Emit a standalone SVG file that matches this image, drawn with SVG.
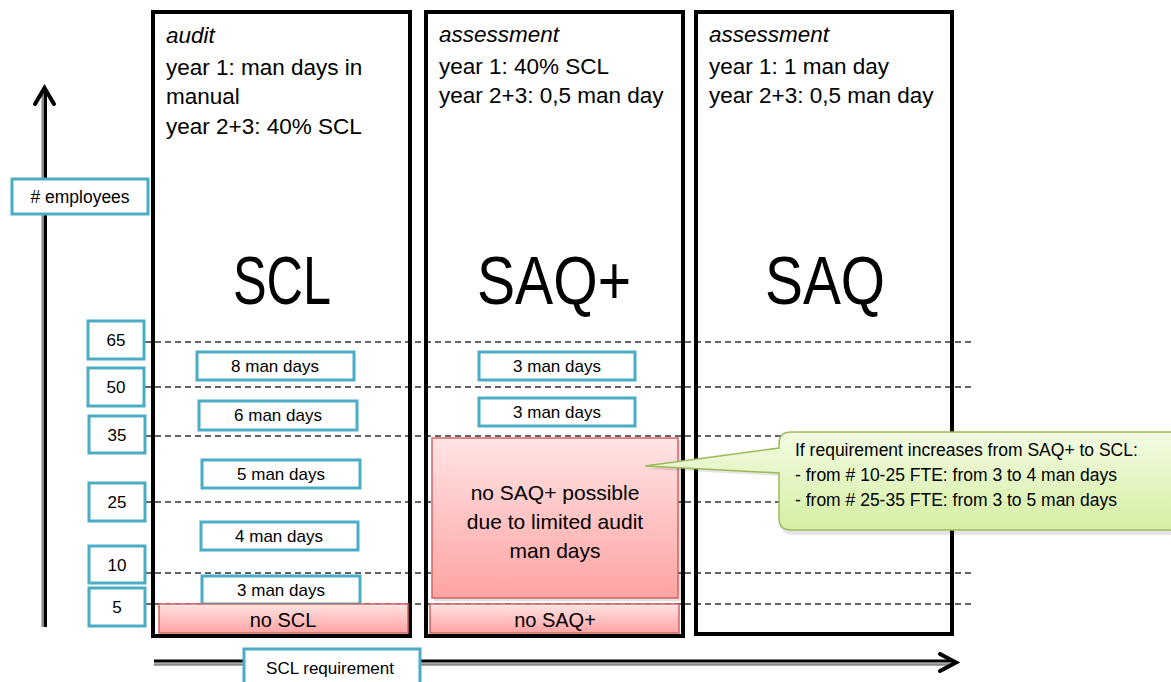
<svg xmlns="http://www.w3.org/2000/svg" width="1171" height="682" viewBox="0 0 1171 682">
<defs>
<linearGradient id="pink" x1="0" y1="0" x2="0" y2="1">
<stop offset="0" stop-color="#ffe4e4"/>
<stop offset="1" stop-color="#ffa3a3"/>
</linearGradient>
<linearGradient id="green" x1="0" y1="0" x2="0" y2="1">
<stop offset="0" stop-color="#f3fbe3"/>
<stop offset="1" stop-color="#d5efa3"/>
</linearGradient>
<style>
text{font-family:"Liberation Sans",Arial,sans-serif;fill:#000}
.col{fill:none;stroke:#000;stroke-width:4}
.blue{fill:#fff;stroke:#4bacc6;stroke-width:3}
.dash{stroke:#333;stroke-width:1.3;stroke-dasharray:6 4;fill:none}
.pink{fill:url(#pink);stroke:#d06464;stroke-width:1.5}
.hdr{font-size:22.5px}
.it{font-style:italic}
.big{font-size:68px;text-anchor:middle}
.sm{font-size:17px;text-anchor:middle}
.mid{font-size:20px;text-anchor:middle}
.note{font-size:17.5px}
.shadow{fill:#000;opacity:0.12}
</style>
</defs>

<g id="connectors">
<line class="dash" x1="145" y1="342" x2="972" y2="342"/>
<line class="dash" x1="145" y1="387" x2="972" y2="387"/>
<line class="dash" x1="145" y1="436" x2="972" y2="436"/>
<line class="dash" x1="145" y1="502" x2="972" y2="502"/>
<line class="dash" x1="145" y1="573" x2="972" y2="573"/>
<line class="dash" x1="145" y1="604" x2="972" y2="604"/>
<g id="y-axis">
<line x1="43" y1="627" x2="43" y2="90" stroke="#888" stroke-width="3"/>
<line x1="45.5" y1="627" x2="45.5" y2="90" stroke="#000" stroke-width="3"/>
<polyline points="35,104 44.5,88 54,104" fill="none" stroke="#000" stroke-width="4" stroke-linecap="round" stroke-linejoin="miter"/>
</g>
<g id="x-axis">
<line x1="154" y1="661" x2="954" y2="661" stroke="#000" stroke-width="3"/>
<line x1="154" y1="664.5" x2="954" y2="664.5" stroke="#888" stroke-width="2.5"/>
<polyline points="940,654 956,662.5 940,671" fill="none" stroke="#000" stroke-width="4" stroke-linecap="round"/>
</g>
</g>

<g id="col-scl">
<rect class="col" x="153" y="12" width="257" height="624"/>
<text class="hdr it" x="166" y="43">audit</text>
<text class="hdr" x="166" y="75">year 1: man days in</text>
<text class="hdr" x="166" y="104">manual</text>
<text class="hdr" x="166" y="134">year 2+3: 40% SCL</text>
<text class="big" x="282" y="304" textLength="98" lengthAdjust="spacingAndGlyphs">SCL</text>
</g>
<g id="col-saqplus">
<rect class="col" x="426" y="12" width="257" height="624"/>
<text class="hdr it" x="439" y="42">assessment</text>
<text class="hdr" x="439" y="74">year 1: 40% SCL</text>
<text class="hdr" x="439" y="103">year 2+3: 0,5 man day</text>
<text class="big" x="554" y="304" textLength="154" lengthAdjust="spacingAndGlyphs">SAQ+</text>
</g>
<g id="col-saq">
<rect class="col" x="696" y="12" width="256" height="622"/>
<text class="hdr it" x="709" y="42">assessment</text>
<text class="hdr" x="709" y="74">year 1: 1 man day</text>
<text class="hdr" x="709" y="103">year 2+3: 0,5 man day</text>
<text class="big" x="825" y="304" textLength="120" lengthAdjust="spacingAndGlyphs">SAQ</text>
</g>

<g id="employees">
<rect class="blue" x="12" y="179" width="136" height="35"/>
<text class="sm" x="80" y="203" style="font-size:17.5px">#  employees</text>
</g>
<g id="n65"><rect class="blue" x="88" y="321" width="56" height="38"/><text class="sm" x="116" y="346">65</text></g>
<g id="n50"><rect class="blue" x="88" y="368" width="56" height="38"/><text class="sm" x="116" y="393">50</text></g>
<g id="n35"><rect class="blue" x="89" y="416" width="56" height="37"/><text class="sm" x="117" y="441">35</text></g>
<g id="n25"><rect class="blue" x="89" y="483" width="56" height="38"/><text class="sm" x="117" y="508">25</text></g>
<g id="n10"><rect class="blue" x="89" y="546" width="56" height="37"/><text class="sm" x="117" y="571">10</text></g>
<g id="n5"><rect class="blue" x="89" y="588" width="56" height="38"/><text class="sm" x="117" y="613">5</text></g>

<g id="scl8"><rect class="blue" x="197" y="352" width="157" height="28"/><text class="sm" x="275" y="372">8 man days</text></g>
<g id="scl6"><rect class="blue" x="199" y="401" width="158" height="29"/><text class="sm" x="278" y="421">6 man days</text></g>
<g id="scl5"><rect class="blue" x="202" y="460" width="158" height="28"/><text class="sm" x="281" y="480">5 man days</text></g>
<g id="scl4"><rect class="blue" x="201" y="522" width="157" height="28"/><text class="sm" x="279" y="542">4 man days</text></g>
<g id="scl3"><rect class="blue" x="202" y="576" width="158" height="28"/><text class="sm" x="281" y="596">3 man days</text></g>
<g id="no-scl">
<rect class="pink" x="159" y="604" width="249" height="29"/>
<text class="mid" x="283" y="627">no SCL</text>
</g>

<g id="saqp3a"><rect class="blue" x="479" y="352" width="156" height="28"/><text class="sm" x="557" y="372">3 man days</text></g>
<g id="saqp3b"><rect class="blue" x="479" y="398" width="156" height="28"/><text class="sm" x="557" y="418">3 man days</text></g>
<g id="no-saqp-possible">
<rect class="shadow" x="434" y="440" width="247" height="161"/>
<rect class="pink" x="432" y="438" width="246" height="160"/>
<text class="mid" x="555" y="500" style="font-size:21px">no SAQ+ possible</text>
<text class="mid" x="555" y="529" style="font-size:21px">due to limited audit</text>
<text class="mid" x="555" y="558" style="font-size:21px">man days</text>
</g>
<g id="no-saqp">
<rect class="pink" x="430" y="604" width="249" height="29"/>
<text class="mid" x="555" y="627">no SAQ+</text>
</g>

<g id="req">
<rect class="blue" x="244" y="649" width="176" height="40"/>
<text class="sm" x="330" y="674">SCL requirement</text>
</g>

<g id="callout">
<path d="M791,434 H1190 V532 H791 Q779,532 779,520 V473 L645,466 L779,448 V446 Q779,434 791,434 Z" fill="#000" opacity="0.1" transform="translate(2,3)"/>
<path d="M791,432 H1190 V530 H791 Q779,530 779,518 V473 L645,466 L779,448 V444 Q779,432 791,432 Z" fill="url(#green)" stroke="#9bbb59" stroke-width="1.5"/>
<text class="note" x="795" y="456">If requirement increases from SAQ+ to SCL:</text>
<text class="note" x="795" y="481">- from # 10-25 FTE: from 3 to 4 man days</text>
<text class="note" x="795" y="506">- from # 25-35 FTE: from 3 to 5 man days</text>
</g>
</svg>
